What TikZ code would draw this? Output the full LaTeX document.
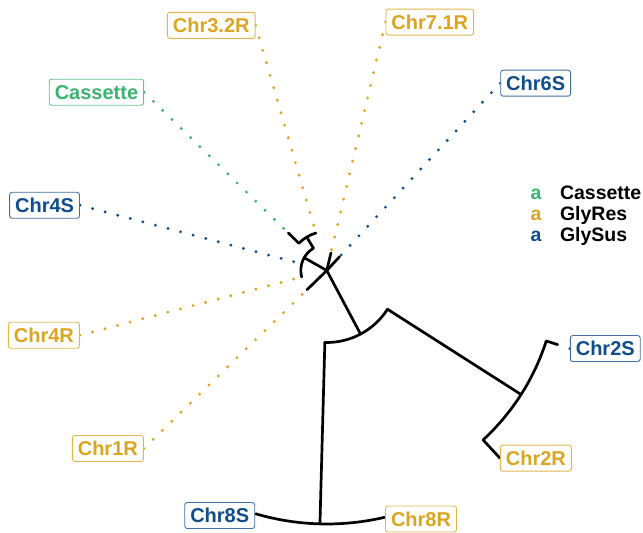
\documentclass[tikz,border=0pt]{standalone}
\usepackage{fontspec}
\setmainfont{Liberation Sans}
\definecolor{cas}{HTML}{3CB371}
\definecolor{res}{HTML}{DAA520}
\definecolor{sus}{HTML}{104E8B}
\begin{document}
\begin{tikzpicture}[x=1pt,y=1pt,
  branch/.style={line width=2.7pt, line cap=round, line join=round, black},
  guide/.style={line width=3.2pt, line cap=round, dash pattern=on 0pt off 13pt, #1},
  tiplab/.style={draw=#1!80!white, text=#1, fill=white, line width=0.9pt,
    rounded corners=2.5pt, font=\fontsize{20}{24}\selectfont\bfseries,
    inner xsep=5.5pt, inner ysep=5.75pt, text height=14.5pt, text depth=0pt},
  legkey/.style={text=#1, anchor=base west, inner sep=0pt,
    font=\fontsize{19.5}{23}\selectfont\bfseries},
  legtxt/.style={anchor=base west, inner sep=0pt,
    font=\fontsize{19.5}{23}\selectfont\bfseries}]
\useasboundingbox (-326.8,-262.5) rectangle (316.2,270.5);

% ---- tree nodes (polar: angle : radius) ----
\coordinate (root) at (0,0);
\coordinate (n1)  at (-62.05:72);
\coordinate (n1a) at (-91.55:72);
\coordinate (n1b) at (-32.55:72);
\coordinate (n8)  at (-91.55:253.5);
\coordinate (n2)  at (-32.55:230.5);
\coordinate (n2a) at (-17.8:230.5);
\coordinate (nE)  at (150.45:26);
\coordinate (nEa) at (120.95:26);
\coordinate (nD)  at (120.95:39);

% ---- tips ----
\coordinate (t8S) at (-106.3:253.5);
\coordinate (t8R) at (-76.8:253.5);
\coordinate (t2S) at (-17.8:242);
\coordinate (t2R) at (-47.3:255.3);
\coordinate (t1R) at (224.2:27.4);
\coordinate (t71) at (76.7:18);
\coordinate (t6S) at (47.2:19);
\coordinate (tCa) at (135.7:53.7);
\coordinate (t32) at (106.2:39);
\coordinate (t4S) at (165.2:26);
\coordinate (t4R) at (194.7:26);

% ---- aligned label anchors ----
\coordinate (a8S) at (-106.3:255.3);
\coordinate (a8R) at (-76.8:255.3);
\coordinate (a2S) at (-17.8:255.3);
\coordinate (a2R) at (-47.3:255.3);
\coordinate (a1R) at (224.2:255.3);
\coordinate (a71) at (76.7:255.3);
\coordinate (a6S) at (47.2:255.3);
\coordinate (aCa) at (135.7:255.3);
\coordinate (a32) at (106.2:255.3);
\coordinate (a4S) at (165.2:255.3);
\coordinate (a4R) at (194.7:255.3);

% ---- dotted guides from labels to tips ----
\draw[guide=sus] (a2S) -- (t2S);
\draw[guide=sus] (a6S) -- (t6S);
\draw[guide=res] (a71) -- (t71);
\draw[guide=res] (a32) -- (t32);
\draw[guide=cas] (aCa) -- (tCa);
\draw[guide=sus] (a4S) -- (t4S);
\draw[guide=res] (a4R) -- (t4R);
\draw[guide=res] (a1R) -- (t1R);

% ---- branches ----
\draw[branch] (root) -- (n1);
\draw[branch] (n1a) arc[start angle=-91.55, end angle=-32.55, radius=72];
\draw[branch] (n1a) -- (n8);
\draw[branch] (n1b) -- (n2);
\draw[branch] (t8S) arc[start angle=-106.3, end angle=-76.8, radius=253.5];
\draw[branch] (t2S) -- (n2a) arc[start angle=-17.8, end angle=-47.3, radius=230.5] -- (t2R);
\draw[branch] (root) -- (t1R);
\draw[branch] (root) -- (t71);
\draw[branch] (root) -- (t6S);
\draw[branch] (root) -- (nE);
\draw[branch] (nEa) arc[start angle=120.95, end angle=194.7, radius=26];
\draw[branch] (nEa) -- (nD);
\draw[branch] (t32) arc[start angle=106.2, end angle=135.7, radius=39] -- (tCa);

% ---- tip labels ----
\node[tiplab=sus, anchor=east] (l8S) at (a8S) {Chr8S};
\node[tiplab=res, anchor=west] (l8R) at (a8R) {Chr8R};
\node[tiplab=sus, anchor=west] (l2S) at (a2S) {Chr2S};
\node[tiplab=res, anchor=west] (l2R) at (a2R) {Chr2R};
\node[tiplab=res, anchor=east] (l1R) at (a1R) {Chr1R};
\node[tiplab=res, anchor=west] (l71) at (a71) {Chr7.1R};
\node[tiplab=sus, anchor=west] (l6S) at (a6S) {Chr6S};
\node[tiplab=cas, anchor=east] (lCa) at (aCa) {Cassette};
\node[tiplab=res, anchor=east] (l32) at (a32) {Chr3.2R};
\node[tiplab=sus, anchor=east] (l4S) at (a4S) {Chr4S};
\node[tiplab=res, anchor=east] (l4R) at (a4R) {Chr4R};

% ---- legend ----
\node[legkey=cas] (k1) at (203.5,70.5) {a};
\node[legkey=res] (k2) at (203.5,49.5) {a};
\node[legkey=sus] (k3) at (203.5,28.5) {a};
\node[legtxt] (g1) at (233,70.5) {Cassette};
\node[legtxt] (g2) at (233,49.5) {GlyRes};
\node[legtxt] (g3) at (233,28.5) {GlySus};
\end{tikzpicture}
\end{document}
